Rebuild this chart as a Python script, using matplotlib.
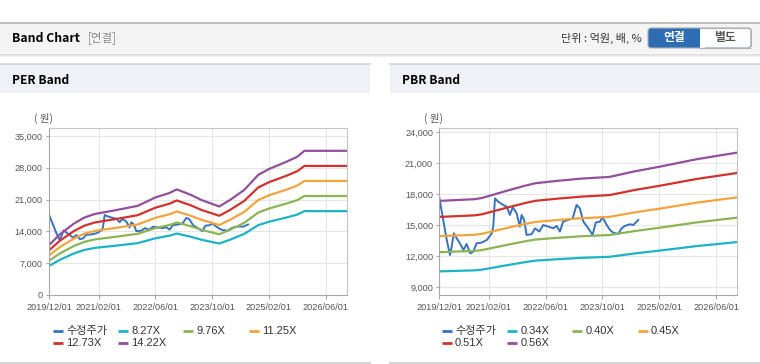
'''PER / PBR band chart (two panels, web-style header)'''
import matplotlib
matplotlib.use('Agg')
import matplotlib.pyplot as plt
from matplotlib.patches import Rectangle, FancyBboxPatch

plt.rcParams['font.family'] = ['Liberation Sans', 'Noto Sans CJK KR']
KR = ['Noto Sans CJK KR', 'DejaVu Sans']

# x axis: months since 2019/12/01
tick_labels = ['2019/12/01', '2021/02/01', '2022/06/01', '2023/10/01', '2025/02/01', '2026/06/01']

# adjusted price (수정주가), shared by both panels
price_m = [0, 1.1, 2.1, 3.0, 3.5, 4.1, 4.9, 5.8, 6.8, 7.7, 8.7, 9.6, 10.5, 11.9, 13.4,
           14.8, 15.2, 15.7, 16.6, 18.0, 19.0, 19.9, 20.7, 21.8, 22.7, 23.2, 23.9, 24.6,
           26.0, 27.0, 28.2, 29.3, 30.7, 32.1, 33.1, 34.0, 34.9, 36.4, 37.6, 38.7, 39.6,
           40.6, 42.0, 43.2, 44.1, 45.3, 46.0, 47.2, 48.1, 49.0, 50.4, 51.4, 52.3, 53.7,
           54.7, 56.1]
price = [17680, 15520, 13580, 12130, 12940, 14230, 13740, 13260, 12610, 13190, 12290,
         12450, 13260, 13320, 13580, 14230, 14870, 17610, 17290, 16970, 16810, 16000,
         16740, 16160, 14870, 16000, 15520, 14070, 14130, 14710, 14390, 15030, 14870,
         14710, 14940, 14390, 15360, 15520, 15680, 16970, 16650, 15360, 14710, 14070,
         15260, 15360, 15780, 15030, 14550, 14290, 14160, 14710, 14940, 15100, 15030,
         15520]

# PER band: EPS x multiple
eps_m = [0, 3, 7, 10, 13, 19, 25, 30, 34, 36, 40, 43, 48, 51, 55, 59, 62, 67, 70, 72, 84]
eps = [772, 935, 1105, 1200, 1255, 1315, 1380, 1510, 1580, 1635, 1550, 1470, 1370, 1470,
       1625, 1860, 1950, 2064, 2141, 2232, 2232]
per_mult = [8.27, 9.76, 11.25, 12.73, 14.22]

# PBR band: BPS x multiple
bps_m = [0, 10, 12, 19, 24, 27, 33, 40, 48, 55, 62, 72.5, 84]
bps = [31000, 31300, 31500, 32750, 33600, 34050, 34450, 34850, 35150, 36100, 36900,
       38200, 39350]
pbr_mult = [0.34, 0.40, 0.45, 0.51, 0.56]

c_price = '#3572c2'
c_band = ['#1db3c6', '#8bb552', '#f3a43b', '#d3322c', '#934f9c']

W, H = 760, 364
fig = plt.figure(figsize=(W / 100, H / 100), dpi=100)
fig.patch.set_facecolor('white')

# background layer in pixel coordinates
bg = fig.add_axes([0, 0, 1, 1], zorder=0)
bg.axis('off')

bg.add_patch(Rectangle((0, 22), W, 31, fc='#f4f4f4', ec='none'))
bg.plot([0, W], [22.5, 22.5], color='#b5b5b5', lw=1.2)
for k, a in enumerate([0.35, 0.2, 0.1]):
    bg.plot([0, W], [53.5 + k, 53.5 + k], color='#999999', lw=0.8, alpha=a)
bg.text(12, 38, 'Band Chart', fontsize=8.8, weight='bold', va='center', family=KR)
bg.text(88, 38, '[연결]', fontsize=8.3, color='#8a8a8a', va='center', family=KR)
bg.text(642, 38, '단위 : 억원, 배, %', fontsize=8, color='#333333', va='center',
        ha='right', family=KR)

# 연결 / 별도 toggle
bg.add_patch(FancyBboxPatch((648, 28), 103, 20, boxstyle='round,pad=0,rounding_size=3',
                            fc='#2d6db4', ec='#b0b0b0', lw=0.8))
bg.add_patch(FancyBboxPatch((700, 28.5), 50.5, 19, boxstyle='round,pad=0,rounding_size=3',
                            fc='white', ec='none'))
bg.add_patch(Rectangle((700, 28.5), 5, 19, fc='white', ec='none'))
bg.plot([751, 751], [30, 46], color='#b0b0b0', lw=0.8)
bg.plot([700, 750], [28.3, 28.3], color='#b0b0b0', lw=0.8)
bg.plot([700, 750], [47.7, 47.7], color='#b0b0b0', lw=0.8)
bg.text(674, 38, '연결', fontsize=8.5, weight='bold', color='white', ha='center',
        va='center', family=KR)
bg.text(725, 38, '별도', fontsize=8.5, weight='bold', color='#555555', ha='center',
        va='center', family=KR)

# panel title bands and bottom borders
for x0, title in [(0, 'PER Band'), (390, 'PBR Band')]:
    bg.add_patch(Rectangle((x0, 64), 370, 29, fc='#eef1f6', ec='none'))
    bg.plot([x0, x0 + 370], [64, 64], color='#d0d4da', lw=1.2)
    bg.plot([x0, x0 + 370], [362.5, 362.5], color='#d4d4d4', lw=1.5)
    bg.text(x0 + 12, 80, title, fontsize=8.6, weight='bold', va='center', family=KR)
    bg.text(x0 + 44, 118, '( 원)', fontsize=7.5, color='#555555', ha='center',
            va='center', family=KR)


def legend(x0, labels):
    for i, lab in enumerate(labels):
        x = x0 + (i % 4) * 65.2
        y = 331 + (i // 4) * 12
        col = c_price if i == 0 else c_band[i - 1]
        bg.plot([x, x + 10], [y, y], color=col, lw=2, solid_capstyle='butt')
        bg.text(x + 13, y, lab, fontsize=8, color='#333333', va='center')


legend(53, ['수정주가'] + ['%.2fX' % m for m in per_mult])
legend(442, ['수정주가'] + ['%.2fX' % m for m in pbr_mult])
bg.set_xlim(0, W)
bg.set_ylim(H, 0)

tick_m = [(int(s[:4]) - 2019) * 12 + int(s[5:7]) - 12 for s in tick_labels]


def style(ax, ylim, yticks):
    ax.set_xlim(0, 84)
    ax.set_ylim(*ylim)
    ax.set_xticks(tick_m)
    ax.set_xticklabels(tick_labels)
    ax.set_yticks(yticks)
    ax.set_yticklabels(['{:,}'.format(v) for v in yticks])
    ax.grid(color='#e6e6e6', lw=0.8)
    ax.set_axisbelow(True)
    for s in ['top', 'right']:
        ax.spines[s].set_color('#c4c4c4')
    for s in ['left', 'bottom']:
        ax.spines[s].set_color('#a8a8a8')
    ax.tick_params(axis='x', length=3, color='#a8a8a8', labelsize=6.6,
                   labelcolor='#555555', pad=3)
    ax.tick_params(axis='y', length=2.5, color='#a8a8a8', labelsize=6.6,
                   labelcolor='#555555', pad=2)


axL = fig.add_axes([49 / W, 1 - 295 / H, 298 / W, 167 / H], zorder=1)
axL.plot(price_m, price, color=c_price, lw=1.4)
for m, c in zip(per_mult, c_band):
    axL.plot(eps_m, [e * m for e in eps], color=c, lw=1.6)
style(axL, (0, 36760), [0, 7000, 14000, 21000, 28000, 35000])

axR = fig.add_axes([439.3 / W, 1 - 295 / H, 298 / W, 167 / H], zorder=1)
axR.plot(price_m, price, color=c_price, lw=1.4)
for m, c in zip(pbr_mult, c_band):
    axR.plot(bps_m, [b * m for b in bps], color=c, lw=1.6)
style(axR, (8255, 24416), [9000, 12000, 15000, 18000, 21000, 24000])

plt.savefig('out.png', dpi=100)
